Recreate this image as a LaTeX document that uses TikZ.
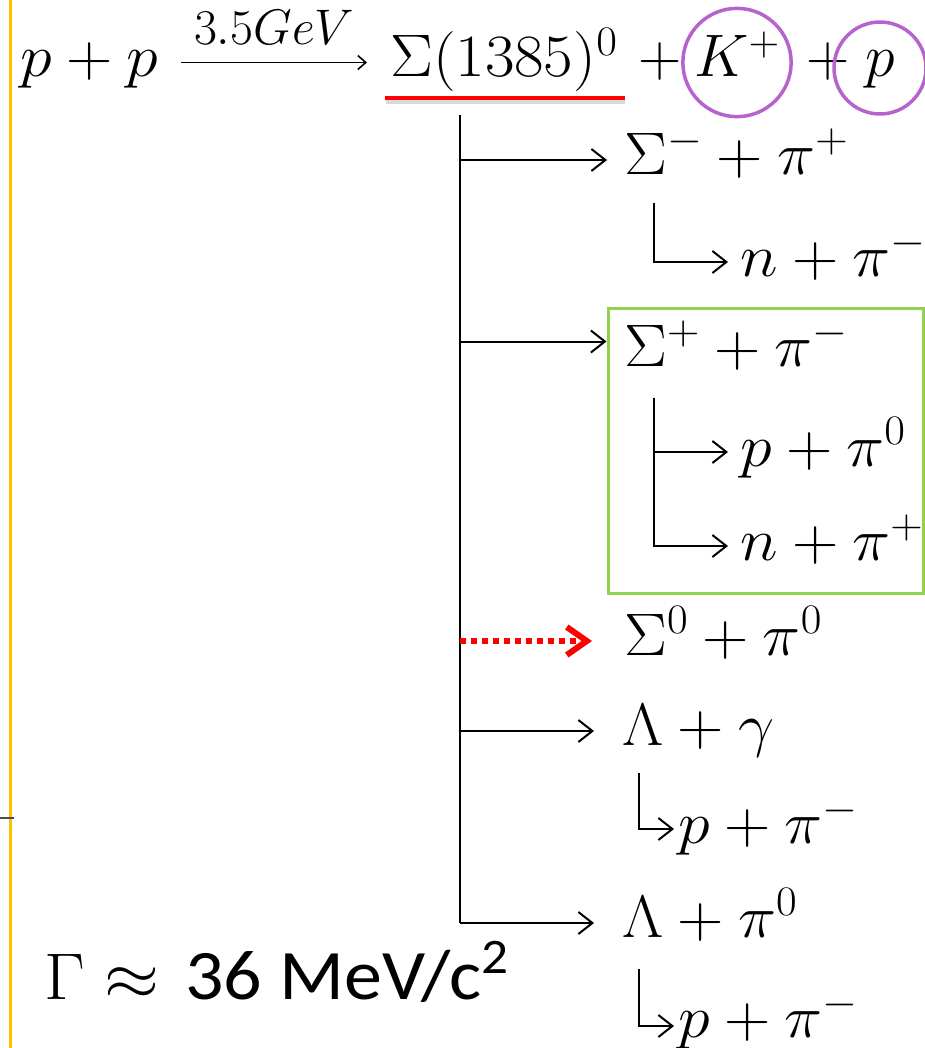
\documentclass[tikz,border=0pt]{standalone}
\usepackage{fix-cm}
\usepackage{amsmath}
\usepackage{graphicx}
\usepackage{fontspec}
\newfontfamily\calib{Carlito}
\usepackage{tikz}
\usetikzlibrary{arrows.meta,calc,positioning}

\definecolor{ringpurple}{RGB}{182,100,204}
\definecolor{boxgreen}{RGB}{146,208,80}
\definecolor{rulegold}{RGB}{255,192,0}

% the slide text is a little wider than it is tall
\newcommand{\wdmath}[1]{\scalebox{1.07}[1]{$#1$}}

\tikzset{
  eq/.style={inner sep=0pt, text height=48pt, text depth=19pt, font=\fontsize{60}{72}\selectfont},
  ring/.style={draw=ringpurple, line width=3.5pt, circle, inner sep=0pt},
  arr/.style={line width=2pt, -{Straight Barb[length=14pt,width=22pt,line width=2pt]}},
  dotarr/.style={draw=red, line width=5.5pt, dash pattern=on 6pt off 5pt, -{Straight Barb[length=20pt,width=28pt,line width=6pt]}},
}

\begin{document}
\begin{tikzpicture}[x=1pt, y=-1pt]
  \useasboundingbox (0,0) rectangle (925,1048);

  % slide edge
  \draw[rulegold, line width=3pt] (10,0) -- (10,1048);
  \draw[black!70, line width=2pt] (0,818) -- (14,818);

  % reaction
  \node[eq, anchor=base west] (pp) at (20,77) {\wdmath{p + p}};
  \node[eq, anchor=base west] (sig) at (390,77) {\wdmath{\Sigma(1385)^0}};
  \node[eq, anchor=base west] (pl1) at (638,77) {$+$};
  \node[eq, ring, anchor=base, minimum size=108pt] (kaon) at (737,77) {$K^+$};
  \node[eq, anchor=base west] (pl2) at (806,77) {$+$};
  \node[eq, ring, anchor=base, text depth=30pt, minimum size=92pt] (prot) at (880,77) {$p$};
  \draw[line width=1.6pt, -{Straight Barb[length=8pt,width=14pt,line width=1.6pt]}]
    ([xshift=23pt]pp.east) -- ([xshift=-23pt]sig.west)
    node[midway, anchor=base, yshift=18pt, inner sep=0pt, font=\fontsize{50}{56}\selectfont] (gev) {$3.5GeV$};

  % underline
  \draw[black!25, line width=4pt, opacity=0.6] ([xshift=-4pt,yshift=-6pt]sig.south west) -- ([xshift=7pt,yshift=-6pt]sig.south east);
  \draw[red, line width=4.5pt] ([xshift=-5pt,yshift=-2pt]sig.south west) -- ([xshift=7pt,yshift=-2pt]sig.south east);

  % decay products
  \coordinate (trunk) at (460,115);
  \node[eq, anchor=west] (sm) at (624,160) {\wdmath{\Sigma^- + \pi^+}};
  \node[eq, anchor=west] (nm) at (740,262) {\wdmath{n + \pi^-}};
  \node[eq, anchor=west] (sp) at (624,352) {\wdmath{\Sigma^+ + \pi^-}};
  \node[eq, anchor=west] (pz) at (740,452) {\wdmath{p + \pi^0}};
  \node[eq, anchor=west] (np) at (740,546) {\wdmath{n + \pi^+}};
  \node[eq, anchor=west] (sz) at (624,641) {\wdmath{\Sigma^0 + \pi^0}};
  \node[eq, anchor=west] (lg) at (622,731) {\wdmath{\Lambda + \gamma}};
  \node[eq, anchor=west] (pm1) at (678,829) {\wdmath{p + \pi^-}};
  \node[eq, anchor=west] (lz) at (622,923) {\wdmath{\Lambda + \pi^0}};
  \node[eq, anchor=west, text depth=12pt] (pm2) at (678,1019) {\wdmath{p + \pi^-}};
  \node[draw=boxgreen, line width=3pt, minimum width=315pt, minimum height=285pt, inner sep=0pt] (gbox) at (765.5,450.5) {};

  % main branches
  \draw[line width=2pt] (trunk) -- (trunk |- lz);
  \draw[arr] (trunk |- sm) -- ([xshift=-17pt]sm.west);
  \coordinate (bx) at ([yshift=-35pt]gbox.north west);
  \draw[arr] (trunk |- bx) -- (bx);
  \draw[dotarr] (trunk |- sz) -- ([xshift=-32pt]sz.west);
  \draw[arr] (trunk |- lg) -- ([xshift=-28pt]lg.west);
  \draw[arr] (trunk |- lz) -- ([xshift=-28pt]lz.west);

  % secondary decays
  \draw[arr] ([xshift=30pt,yshift=-9pt]sm.south west) |- ([xshift=-12pt]nm.west);
  \coordinate (hk) at ([xshift=30pt,yshift=-12pt]sp.south west);
  \draw[arr] (hk) |- ([xshift=-12pt]pz.west);
  \draw[arr] (hk) |- ([xshift=-12pt]np.west);
  \draw[arr] ([xshift=17pt,yshift=-8pt]lg.south west) |- ([xshift=-4pt]pm1.west);
  \draw[arr] ([xshift=17pt,yshift=-12pt]lz.south west) |- ([xshift=-4pt,yshift=-7pt]pm2.west);

  % width
  \node[anchor=base west, inner sep=0pt, font=\fontsize{66}{76}\selectfont] (gam) at (44,999)
    {\scalebox{1.07}[1]{$\Gamma \approx$\hspace{4pt} {\calib\fontsize{71}{80}\selectfont 36 MeV/c\textsuperscript{2}}}};
\end{tikzpicture}
\end{document}
